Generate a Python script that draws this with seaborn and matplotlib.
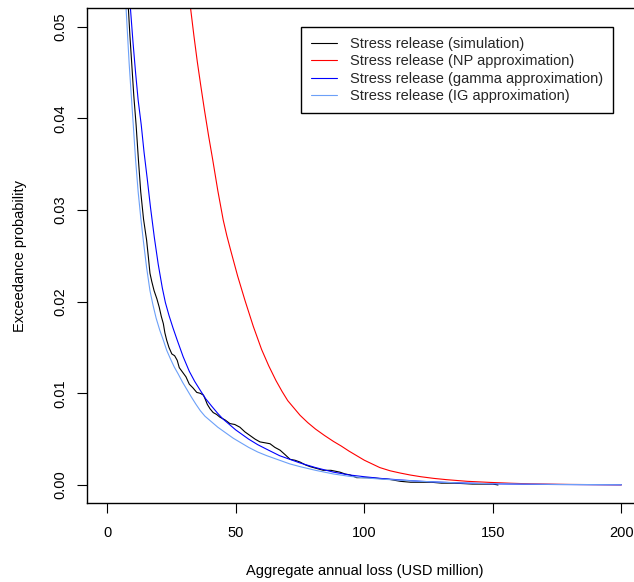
import pandas as pd
import matplotlib
matplotlib.use('Agg')
import matplotlib.pyplot as plt
import seaborn as sns

# values
sim_x = [8.2, 8.8, 9.5, 10.3, 11.2, 12.1, 13.0, 14.1, 15.3, 16.0, 16.6, 17.3, 18.2,
         19.3, 20.2, 21.0, 21.8, 22.4, 23.1, 24.0, 25.1, 26.2, 27.2, 28.0, 29.3, 30.6,
         31.9, 33.3, 34.8, 36.2, 37.4, 38.2, 38.9, 40.0, 41.2, 42.5, 43.8, 45.8, 47.7,
         49.6, 51.6, 53.5, 55.5, 57.5, 59.4, 61.4, 63.3, 65.2, 67.2, 69.2, 71.1, 73.0,
         75.0, 77.0, 78.9, 81.5, 84.0, 87.0, 90.5, 92.5, 94.4, 97.0, 101.0, 106.0,
         110.0, 114.0, 118.0, 126.0, 130.0, 135.0, 142.0, 150.0, 152.0]
sim_y = [0.052, 0.049, 0.046, 0.0425, 0.0393, 0.0355, 0.032, 0.029, 0.0267, 0.0248,
         0.0231, 0.0222, 0.0212, 0.0203, 0.0194, 0.0184, 0.0176, 0.0166, 0.0158, 0.0150,
         0.0143, 0.0141, 0.0136, 0.0128, 0.0123, 0.0118, 0.0110, 0.0106, 0.0101, 0.0100,
         0.0098, 0.0093, 0.0088, 0.0083, 0.0079, 0.0077, 0.0074, 0.0071, 0.0067, 0.0066,
         0.0063, 0.0058, 0.0054, 0.0050, 0.0047, 0.0046, 0.0045, 0.0041, 0.0038, 0.0033,
         0.0028, 0.0027, 0.0025, 0.0022, 0.0020, 0.0018, 0.0016, 0.0016, 0.0014, 0.0012,
         0.0011, 0.0008, 0.0008, 0.0007, 0.0006, 0.0004, 0.0003, 0.0003, 0.0002, 0.0002,
         0.0001, 0.0001, 0.0]

np_x = [32.4, 33.7, 35.0, 36.4, 37.8, 39.4, 41.0, 43.0, 45.1, 46.5, 48.0, 50.7, 53.6,
        56.8, 60.0, 62.8, 65.6, 68.0, 70.2, 72.6, 75.0, 78.0, 81.0, 84.5, 88.0, 91.0,
        94.0, 97.0, 100.0, 103.0, 106.0, 110.0, 114.0, 118.0, 122.0, 127.0, 132.0,
        140.0, 149.0, 157.0, 165.0, 180.0, 200.0]
np_y = [0.052, 0.049, 0.0462, 0.0435, 0.0409, 0.0381, 0.0355, 0.0321, 0.0289, 0.0272,
        0.0256, 0.0228, 0.0201, 0.0173, 0.0148, 0.0130, 0.0114, 0.0102, 0.0092, 0.0084,
        0.0076, 0.0068, 0.0061, 0.0054, 0.00475, 0.00425, 0.0037, 0.0032, 0.0027,
        0.0023, 0.0019, 0.00155, 0.0013, 0.00108, 0.0009, 0.00072, 0.00058, 0.0004,
        0.00028, 0.00019, 0.00012, 0.00006, 0.00002]

gam_x = [9.0, 10.0, 11.0, 12.0, 13.2, 14.3, 15.5, 16.8, 18.3, 19.8, 21.4, 22.6, 24.0,
         25.6, 27.2, 29.5, 31.9, 34.0, 36.0, 38.3, 40.6, 43.0, 45.0, 47.5, 50.0, 52.5,
         55.0, 58.5, 62.0, 67.0, 71.0, 75.0, 81.0, 88.0, 94.0, 100.0, 107.0, 114.0,
         122.0, 130.0, 140.0, 150.0, 162.0, 175.0, 200.0]
gam_y = [0.052, 0.0483, 0.045, 0.042, 0.0393, 0.0363, 0.0335, 0.0303, 0.0270, 0.0241,
         0.0215, 0.0199, 0.0185, 0.0171, 0.0158, 0.0140, 0.0124, 0.0113, 0.0104, 0.0094,
         0.0086, 0.0078, 0.0072, 0.0066, 0.0060, 0.0055, 0.0050, 0.0044, 0.0039, 0.0032,
         0.0028, 0.0024, 0.0019, 0.0014, 0.0011, 0.0009, 0.0007, 0.00055, 0.0004, 0.0003,
         0.0002, 0.00013, 0.00008, 0.00005, 0.00002]

ig_x = [7.3, 7.9, 8.5, 9.3, 10.1, 11.0, 12.0, 13.0, 14.0, 15.3, 16.6, 17.8, 19.0, 20.4,
        21.8, 23.1, 24.5, 26.0, 27.6, 29.3, 31.0, 32.7, 34.5, 36.2, 38.0, 40.5, 43.0,
        46.0, 49.0, 52.0, 55.0, 58.5, 62.0, 67.0, 71.0, 75.0, 81.0, 88.0, 94.0, 100.0,
        107.0, 114.0, 122.0, 130.0, 140.0, 150.0, 162.0, 175.0, 200.0]
ig_y = [0.052, 0.049, 0.046, 0.0426, 0.0393, 0.0355, 0.032, 0.0292, 0.0267, 0.0237,
        0.0212, 0.0196, 0.0182, 0.0169, 0.0158, 0.0147, 0.0138, 0.0129, 0.0121, 0.0112,
        0.0104, 0.0096, 0.0088, 0.0081, 0.0075, 0.0069, 0.0063, 0.0057, 0.0051, 0.0046,
        0.0041, 0.0036, 0.0032, 0.0027, 0.0023, 0.0020, 0.0016, 0.0012, 0.00095,
        0.00078, 0.00063, 0.00052, 0.0004, 0.0003, 0.0002, 0.00014, 0.0001, 0.00006,
        0.00003]

labels = ['Stress release (simulation)', 'Stress release (NP approximation)',
          'Stress release (gamma approximation)', 'Stress release (IG approximation)']
colors = ['black', '#FF0000', '#0000FF', '#6CA0F8']
x_ticks = [0, 50, 100, 150, 200]
y_ticks = [0.0, 0.01, 0.02, 0.03, 0.04, 0.05]
y_tick_labels = ['0.00', '0.01', '0.02', '0.03', '0.04', '0.05']

frames = []
for lab, xs, ys in zip(labels, [sim_x, np_x, gam_x, ig_x], [sim_y, np_y, gam_y, ig_y]):
    frames.append(pd.DataFrame({'loss': xs, 'prob': ys, 'series': lab}))
df = pd.concat(frames, ignore_index=True)

sns.set_style('ticks')
plt.rcParams['font.family'] = ['Liberation Sans', 'DejaVu Sans']
fs = 10.5

fig = plt.figure(figsize=(6.34, 5.82), dpi=100)
ax = fig.add_axes([0.1368, 0.1352, 0.8758, 0.8504])

sns.lineplot(data=df, x='loss', y='prob', hue='series', hue_order=labels,
             palette=colors, estimator=None, sort=False, linewidth=0.8, ax=ax)

ax.set_xlim(-8, 208)
ax.set_ylim(-0.002, 0.052)
ax.set_xticks(x_ticks)
ax.set_xticklabels([str(t) for t in x_ticks])
ax.set_yticks(y_ticks)
ax.set_yticklabels(y_tick_labels)
ax.tick_params(direction='out', length=7.2, width=0.8, color='black',
               labelsize=fs, labelcolor='black')
ax.tick_params(axis='x', pad=9)
ax.tick_params(axis='y', pad=7, labelrotation=90)
plt.setp(ax.get_yticklabels(), va='center')

for sp in ax.spines.values():
    sp.set_color('black')
    sp.set_linewidth(1)

ax.set_xlabel('Aggregate annual loss (USD million)', fontsize=fs, color='black')
ax.set_ylabel('Exceedance probability', fontsize=fs, color='black')
ax.xaxis.set_label_coords(0.5, -0.1375)
ax.xaxis.label.set_va('center')
ax.yaxis.set_label_coords(-0.1201, 0.5)
ax.yaxis.label.set_va('center')

handles, labs = ax.get_legend_handles_labels()
leg = ax.legend(handles, labs, loc='upper left',
                bbox_to_anchor=(301 / 634, 1 - 27 / 582), bbox_transform=fig.transFigure,
                frameon=True, fancybox=False, edgecolor='black', framealpha=1,
                borderpad=0.68, labelspacing=0.23, handlelength=1.78,
                handletextpad=0.9, borderaxespad=0, fontsize=fs)
leg.get_frame().set_linewidth(1)

fig.savefig('out.png', dpi=100)
